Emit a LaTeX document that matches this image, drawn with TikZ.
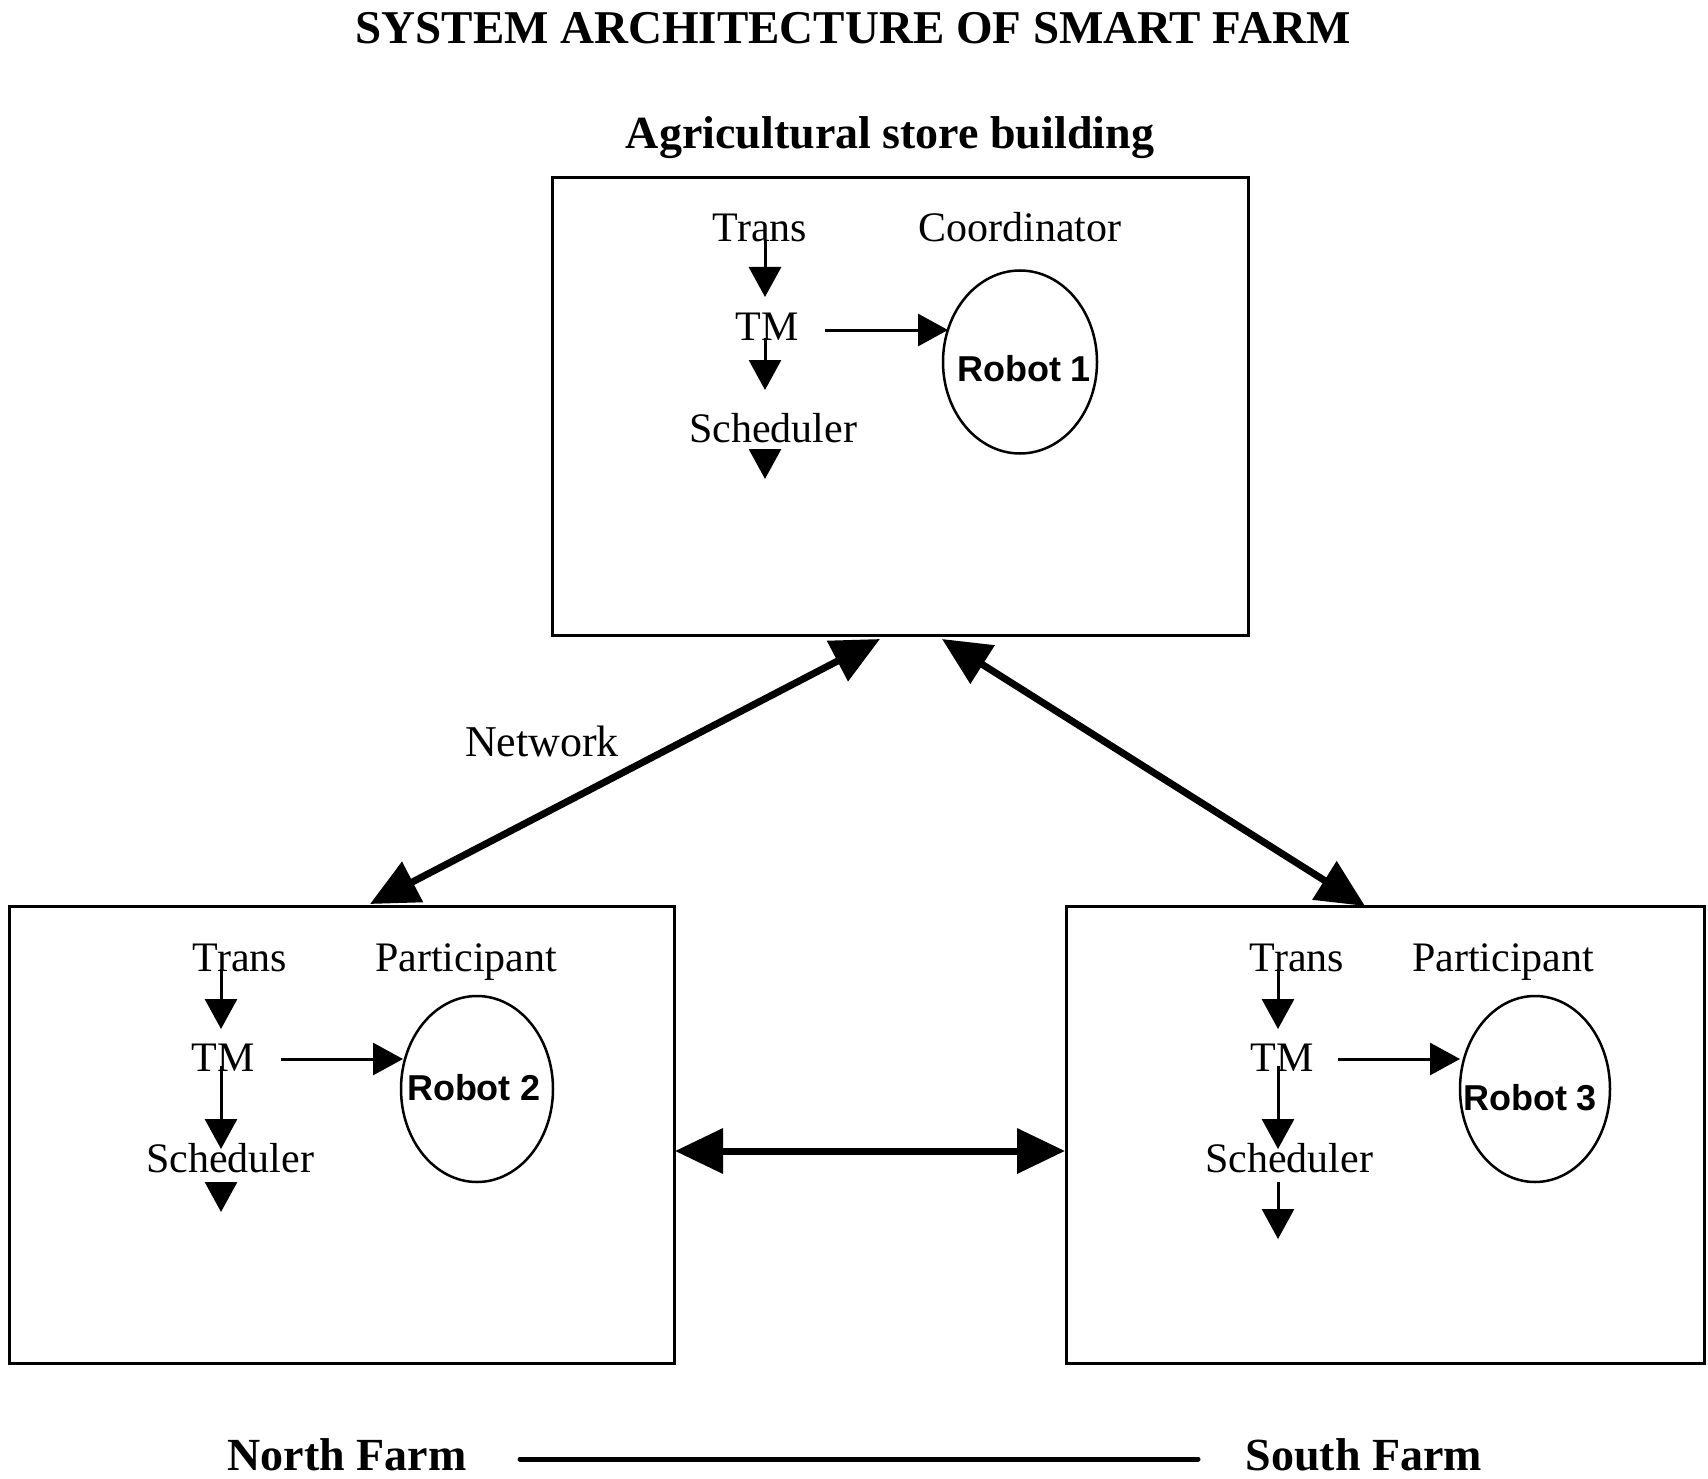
\documentclass[tikz,border=0pt]{standalone}
\usepackage{fontspec}
\setmainfont{Liberation Serif}
\newfontfamily\robotfont{Liberation Sans}
\usetikzlibrary{arrows.meta,shapes.geometric}
\begin{document}
\begin{tikzpicture}[x=1pt,y=-1pt,
  box/.style={draw,line width=3pt,rectangle,inner sep=0pt},
  lbl/.style={font=\fontsize{42}{44}\selectfont,anchor=base,inner sep=0pt},
  hdr/.style={font=\fontsize{46}{48}\selectfont\bfseries,anchor=base,inner sep=0pt},
  robot/.style={draw,ellipse,line width=2.5pt,inner sep=0pt},
  rlbl/.style={font=\fontsize{36}{38}\selectfont\robotfont\bfseries,anchor=base,inner sep=0pt},
  small/.style={line width=3pt,-{Triangle[length=30pt,width=32pt]}},
  big/.style={line width=7pt,{Triangle[length=48pt,width=44pt]}-{Triangle[length=48pt,width=44pt]}}]
\useasboundingbox[fill=white] (0,0) rectangle (1708,1479);

% titles
\node[hdr,font=\fontsize{47}{49}\selectfont\bfseries] (title) at (853,44) {SYSTEM ARCHITECTURE OF SMART FARM};
\node[hdr] (store) at (890,149) {Agricultural store building};

% boxes
\node[box,minimum width=696pt,minimum height=457pt] (top) at (900,406.5) {};
\node[box,minimum width=665pt,minimum height=457pt] (north) at (341.5,1134.5) {};
\node[box,minimum width=638pt,minimum height=457pt] (south) at (1385,1134.5) {};

% ---- top box contents
\node[lbl] (trans1) at (760,242) {Trans};
\node[lbl] (coord) at (1020,242) {Coordinator};
\node[lbl] (tm1) at (767,341) {TM};
\node[lbl] (sch1) at (773,442) {Scheduler};
\node[robot,minimum width=154pt,minimum height=183pt] (robot1) at (1020,362) {};
\node[rlbl] (r1txt) at (1024,381) {Robot 1};
\coordinate (a1s) at (765,240); \coordinate (a1e) at (765,297);
\coordinate (b1s) at (765,338); \coordinate (b1e) at (765,390);
\coordinate (c1s) at (765,452); \coordinate (c1e) at (765,479);
\coordinate (d1s) at (825,330); \coordinate (d1e) at (948,330);
\draw[small] (a1s) -- (a1e);
\draw[small] (b1s) -- (b1e);
\draw[small] (c1s) -- (c1e);
\draw[small] (d1s) -- (d1e);

% ---- north box contents
\node[lbl] (trans2) at (240,971) {Trans};
\node[lbl] (part2) at (466,971) {Participant};
\node[lbl] (tm2) at (223,1071) {TM};
\node[lbl] (sch2) at (230,1172) {Scheduler};
\node[robot,minimum width=152pt,minimum height=186pt] (robot2) at (477,1089) {};
\node[rlbl] (r2txt) at (474,1100) {Robot 2};
\coordinate (a2s) at (221,969); \coordinate (a2e) at (221,1029);
\coordinate (b2s) at (221,1066); \coordinate (b2e) at (221,1149);
\coordinate (c2s) at (221,1184); \coordinate (c2e) at (221,1212);
\coordinate (d2s) at (281,1059); \coordinate (d2e) at (403,1059);
\draw[small] (a2s) -- (a2e);
\draw[small] (b2s) -- (b2e);
\draw[small] (c2s) -- (c2e);
\draw[small] (d2s) -- (d2e);

% ---- south box contents
\node[lbl] (trans3) at (1297,971) {Trans};
\node[lbl] (part3) at (1503,971) {Participant};
\node[lbl] (tm3) at (1282,1071) {TM};
\node[lbl] (sch3) at (1289,1172) {Scheduler};
\node[robot,minimum width=150pt,minimum height=186pt] (robot3) at (1535,1089) {};
\node[rlbl] (r3txt) at (1530,1110) {Robot 3};
\coordinate (a3s) at (1278,969); \coordinate (a3e) at (1278,1029);
\coordinate (b3s) at (1278,1066); \coordinate (b3e) at (1278,1149);
\coordinate (c3s) at (1278,1182); \coordinate (c3e) at (1278,1239);
\coordinate (d3s) at (1338,1059); \coordinate (d3e) at (1460,1059);
\draw[small] (a3s) -- (a3e);
\draw[small] (b3s) -- (b3e);
\draw[small] (c3s) -- (c3e);
\draw[small] (d3s) -- (d3e);

% ---- network links
\coordinate (nl1) at (370,904); \coordinate (nl2) at (880,639);
\coordinate (nr1) at (942,639); \coordinate (nr2) at (1365,906);
\coordinate (h1) at (675,1151); \coordinate (h2) at (1065,1151);
\draw[big] (nl1) -- (nl2);
\draw[big] (nr1) -- (nr2);
\draw[big] (h1) -- (h2);
\node[lbl,font=\fontsize{44}{46}\selectfont] (net) at (542,756) {Network};

% ---- legend
\node[hdr] (nfarm) at (347,1470) {North Farm};
\node[hdr] (sfarm) at (1364,1470) {South Farm};
\coordinate (lg1) at (520,1459); \coordinate (lg2) at (1198,1459);
\draw[line width=5pt,line cap=round] (lg1) -- (lg2);
\end{tikzpicture}
\end{document}
